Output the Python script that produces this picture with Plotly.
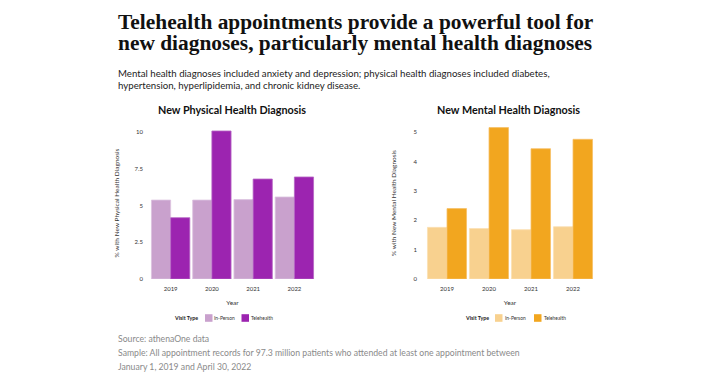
import plotly.graph_objects as go

W, H = 712, 378

years = ["2019", "2020", "2021", "2022"]
physical_in_person = [5.37, 5.37, 5.40, 5.58]
physical_telehealth = [4.17, 10.07, 6.80, 6.94]
mental_in_person = [1.76, 1.72, 1.68, 1.78]
mental_telehealth = [2.40, 5.16, 4.44, 4.76]

phys_ticks = [0, 2.5, 5, 7.5, 10]
phys_tick_text = ["0", "2.5", "5", "7.5", "10"]
ment_ticks = [0, 1, 2, 3, 4, 5]
legend_labels = ["In-Person", "Telehealth"]

title_lines = ["Telehealth appointments provide a powerful tool for",
               "new diagnoses, particularly mental health diagnoses"]
subtitle_lines = ["Mental health diagnoses included anxiety and depression; physical health diagnoses included diabetes,",
                  "hypertension, hyperlipidemia, and chronic kidney disease."]
footer_lines = ["Source: athenaOne data",
                "Sample: All appointment records for 97.3 million patients who attended at least one appointment between",
                "January 1, 2019 and April 30, 2022"]

def fx(x):
    return x / W

def fy(y):
    return 1 - y / H

C_P_IN, C_P_TH = "#c9a1cd", "#9c24b0"
C_M_IN, C_M_TH = "#f8d18f", "#f2a61f"

fig = go.Figure()
fig.add_trace(go.Bar(x=years, y=physical_in_person, name="In-Person", xaxis="x", yaxis="y",
                     marker=dict(color=C_P_IN, line=dict(color="#dcc3df", width=0.8))))
fig.add_trace(go.Bar(x=years, y=physical_telehealth, name="Telehealth", xaxis="x", yaxis="y",
                     marker=dict(color=C_P_TH, line=dict(color="#b566c4", width=0.8))))
fig.add_trace(go.Bar(x=years, y=mental_in_person, name="In-Person", xaxis="x2", yaxis="y2",
                     marker=dict(color=C_M_IN, line=dict(color="#fbe0b3", width=0.8))))
fig.add_trace(go.Bar(x=years, y=mental_telehealth, name="Telehealth", xaxis="x2", yaxis="y2",
                     marker=dict(color=C_M_TH, line=dict(color="#f6c068", width=0.8))))

top_px, bot_px = 127, 279
tick_font = dict(family="Lato", size=6, color="#333")
axis_title_font = dict(family="Lato", size=6.5, color="#333")

common_x = dict(showgrid=False, zeroline=False, showline=False, ticks="", automargin=False,
                tickfont=tick_font, ticklabelstandoff=5,
                title=dict(text="Year", font=axis_title_font, standoff=9))
common_y = dict(showgrid=False, zeroline=False, showline=False, ticks="", automargin=False, tickfont=tick_font)

fig.update_layout(
    width=W, height=H,
    margin=dict(l=0, r=0, t=0, b=0, autoexpand=False),
    paper_bgcolor="white", plot_bgcolor="white",
    barmode="group", bargap=0.07, bargroupgap=0,
    showlegend=False,
    xaxis=dict(domain=[fx(150), fx(315)], anchor="y", **common_x),
    yaxis=dict(domain=[fy(bot_px), fy(top_px)], anchor="x", range=[0, 10.34],
               tickvals=phys_ticks, ticktext=phys_tick_text, ticklabelstandoff=6,
               title=dict(text="% with New Physical Health Diagnosis", font=axis_title_font, standoff=14),
               **common_y),
    xaxis2=dict(domain=[fx(426), fx(594)], anchor="y2", **common_x),
    yaxis2=dict(domain=[fy(bot_px), fy(top_px)], anchor="x2", range=[0, 5.18],
                tickvals=ment_ticks, ticklabelstandoff=8,
                title=dict(text="% with New Mental Health Diagnosis", font=axis_title_font, standoff=16),
                **common_y),
)

annotations = []
shapes = []
for i, line in enumerate(title_lines):
    annotations.append(dict(text=f"<b>{line}</b>", x=fx(116), y=fy(22 + i * 21), xref="paper", yref="paper",
                            xanchor="left", yanchor="middle", showarrow=False,
                            font=dict(family="Liberation Serif", size=21.4, color="#111")))
for i, line in enumerate(subtitle_lines):
    annotations.append(dict(text=line, x=fx(116), y=fy(73 + i * 12), xref="paper", yref="paper",
                            xanchor="left", yanchor="middle", showarrow=False,
                            font=dict(family="Lato", size=9.66, color="#222")))
annotations.append(dict(text="<b>New Physical Health Diagnosis</b>", x=fx(232), y=fy(110), xref="paper", yref="paper",
                        xanchor="center", yanchor="middle", showarrow=False,
                        font=dict(family="Lato", size=10.8, color="#111")))
annotations.append(dict(text="<b>New Mental Health Diagnosis</b>", x=fx(508), y=fy(110), xref="paper", yref="paper",
                        xanchor="center", yanchor="middle", showarrow=False,
                        font=dict(family="Lato", size=10.8, color="#111")))
for i, line in enumerate(footer_lines):
    annotations.append(dict(text=line, x=fx(116), y=fy(338 + i * 14), xref="paper", yref="paper",
                            xanchor="left", yanchor="middle", showarrow=False,
                            font=dict(family="Lato", size=8.67, color="#8a8a8a")))

# Legends (one per panel); text positions are label centres
legend_specs = [
    dict(title_cx=186, sw_x=[205, 241.5], txt_cx=[224, 262], colors=[C_P_IN, C_P_TH]),
    dict(title_cx=476.5, sw_x=[495, 534], txt_cx=[515.5, 555], colors=[C_M_IN, C_M_TH]),
]
ly = 318
for spec in legend_specs:
    annotations.append(dict(text="<b>Visit Type</b>", x=fx(spec["title_cx"]), y=fy(ly), xref="paper", yref="paper",
                            xanchor="center", yanchor="middle", showarrow=False,
                            font=dict(family="Lato", size=5.3, color="#222")))
    for sx, tx, col, lab in zip(spec["sw_x"], spec["txt_cx"], spec["colors"], legend_labels):
        shapes.append(dict(type="rect", xref="paper", yref="paper",
                           x0=fx(sx), x1=fx(sx + 7.5), y0=fy(ly - 3.8), y1=fy(ly + 3.8),
                           fillcolor=col, line=dict(width=0)))
        annotations.append(dict(text=lab, x=fx(tx), y=fy(ly), xref="paper", yref="paper",
                                xanchor="center", yanchor="middle", showarrow=False,
                                font=dict(family="Lato", size=4.9, color="#333")))

fig.update_layout(annotations=annotations, shapes=shapes)

fig.write_html("out.html", config={"displayModeBar": False},
               post_script="document.body.style.margin='0';document.body.style.padding='0';")
